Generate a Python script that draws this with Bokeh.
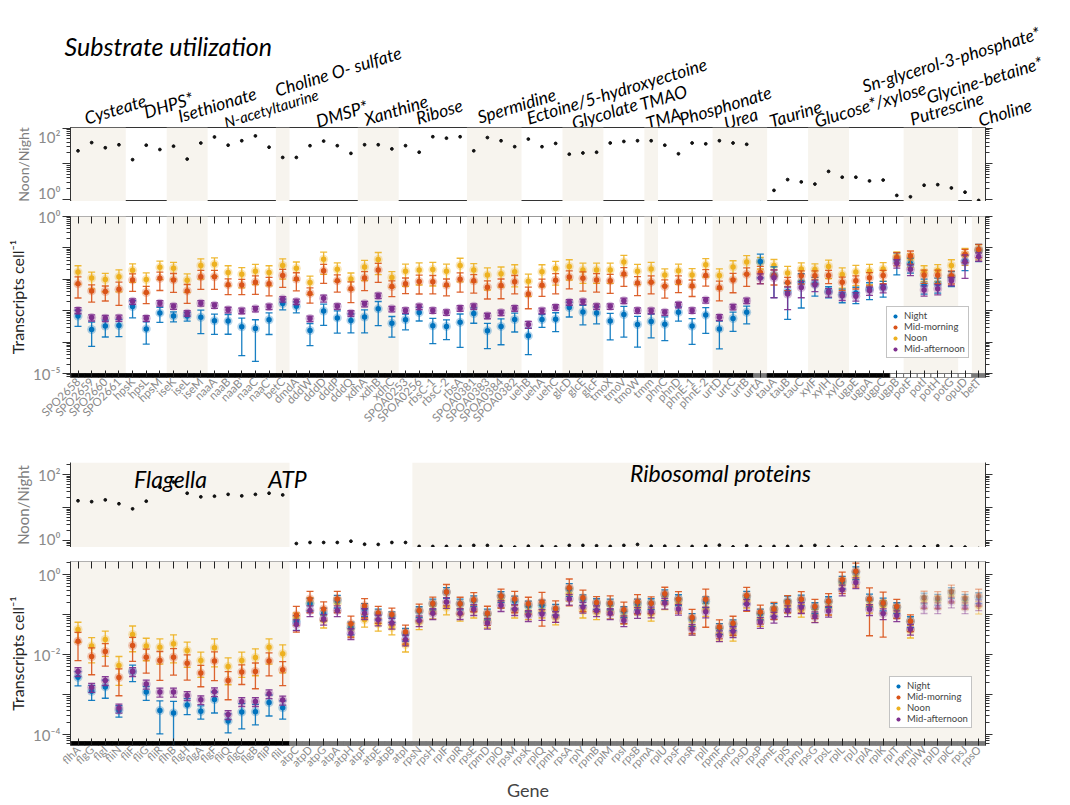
import math
from bokeh.plotting import figure
from bokeh.models import (Range1d, LogAxis, LinearAxis, FixedTicker, CustomJSTickFormatter,
                          Legend, LegendItem)
from bokeh.embed import file_html
from bokeh.resources import INLINE
from bokeh.core.properties import value

# ---------------- data: substrate utilization panel ----------------
genes_top = ["SPO2658","SPO2659","SPO2660","SPO2661","hpsK","hpsL","hpsM","iseK","iseL","iseM",
             "naaA","naaB","naaB'","naaC","naaC'","betC","dmdA","dddW","dddD","dddP","dddQ",
             "xdhA","xdhB","xdhC","SPOA0253","SPOA0256","rbsC-1","rbsC-2","rbsA","SPOA0381",
             "SPOA0383","SPOA0384","SPOA0382","uehB","uehA","uehC","glcD","glcE","glcF","tmoX",
             "tmoV","tmoW","tmm","phnC","phnD","phnE-1","phnE-2","urtD","urtC","urtB","urtA",
             "tauA","tauB","tauC","xylF","xylH","xylG","ugpE","ugpA","ugpC","ugpB","potF","potI",
             "potH","potG","opuD","betT"]
groups_top = ["Cysteate","DHPS*","Isethionate","N-acetyltaurine","Choline O- sulfate","DMSP*",
              "Xanthine","Ribose","Spermidine","Ectoine/5-hydroxyectoine","Glycolate","TMAO","TMA",
              "Phosphonate","Urea","Taurine","Glucose*/xylose","Sn-glycerol-3-phosphate*",
              "Putrescine","Glycine-betaine*","Choline"]
group_sizes_top = [4,3,3,5,1,5,3,5,4,3,3,3,1,4,4,3,3,4,4,1,1]
ratio_top = [23,39,28,34,13,33,25,31,13.5,38, 56,33,44,60,29,15,15,32,43,32,
             19.5,34,34,26,32,21,57,52,57,23, 54,44,30,49,30,37,18.5,20,21,38,
             42,44,44,33,19,38,36,44,38,35, 0.81,1.8,3.6,3.1,2.7,6.1,4.2,4.2,3.3,3.5,
             1.3,1.19,2.5,2.6,2.1,1.6,0.94]
# log10(transcripts per cell)
night_top_log = [-3.17,-3.60,-3.49,-3.47,-2.87,-3.58,-3.07,-3.17,-3.17,-3.21,
                 -3.32,-3.33,-3.51,-3.57,-3.29,-2.77,-2.86,-3.63,-3.01,-3.23,
                 -3.31,-3.20,-2.94,-3.40,-3.29,-3.06,-3.48,-3.50,-3.37,-3.09,
                 -3.64,-3.50,-3.28,-3.80,-3.28,-3.27,-2.90,-3.04,-3.07,-3.33,
                 -3.12,-3.44,-3.34,-3.43,-3.05,-3.49,-3.14,-3.58,-3.25,-3.05,
                 -1.43,-1.86,-2.39,-2.09,-2.14,-2.38,-2.48,-2.44,-2.30,-2.25,
                 -1.38,-1.50,-2.17,-2.14,-1.93,-1.42,-1.08]
morning_top_log = [-2.14,-2.37,-2.39,-2.32,-2.02,-2.42,-1.97,-2.02,-2.37,-1.92,
                   -1.92,-2.17,-2.18,-2.09,-2.14,-1.88,-1.99,-2.45,-1.73,-2.05,
                   -2.30,-1.96,-1.70,-2.23,-2.14,-2.07,-2.08,-2.18,-2.00,-2.05,
                   -2.25,-2.20,-2.08,-2.47,-2.19,-2.03,-1.93,-1.97,-2.02,-2.05,
                   -1.83,-2.12,-2.09,-2.22,-2.08,-2.21,-1.88,-2.27,-2.02,-1.84,
                   -1.78,-1.88,-2.10,-1.89,-1.89,-1.88,-2.09,-2.05,-1.95,-1.88,
                   -1.31,-1.26,-1.87,-1.87,-1.89,-1.21,-1.05]
noon_top_log = [-1.77,-1.96,-2.01,-1.92,-1.71,-2.01,-1.62,-1.65,-2.03,-1.56,
                -1.52,-1.78,-1.84,-1.74,-1.78,-1.56,-1.65,-2.10,-1.36,-1.68,
                -1.99,-1.61,-1.37,-1.94,-1.74,-1.70,-1.69,-1.74,-1.56,-1.70,
                -1.86,-1.82,-1.76,-2.06,-1.76,-1.66,-1.59,-1.70,-1.70,-1.70,
                -1.45,-1.74,-1.67,-1.86,-1.73,-1.86,-1.54,-1.88,-1.61,-1.45,
                -1.45,-1.56,-1.80,-1.67,-1.69,-1.59,-1.85,-1.77,-1.74,-1.67,
                -1.27,-1.35,-1.75,-1.72,-1.56,-1.21,-1.08]
afternoon_top_log = [-2.99,-3.22,-3.24,-3.23,-2.70,-3.24,-2.76,-2.86,-3.08,-2.76,
                     -2.83,-2.97,-3.00,-2.94,-2.87,-2.63,-2.71,-3.25,-2.60,-2.86,
                     -3.08,-2.78,-2.52,-2.94,-2.99,-2.87,-2.99,-3.05,-2.92,-2.86,
                     -3.16,-3.06,-2.92,-3.44,-3.00,-2.89,-2.73,-2.71,-2.86,-2.86,
                     -2.68,-2.99,-3.00,-3.05,-2.81,-2.99,-2.66,-3.21,-2.88,-2.68,
                     -1.96,-1.95,-2.47,-2.26,-2.17,-2.41,-2.52,-2.54,-2.36,-2.28,
                     -1.49,-1.68,-2.34,-2.30,-2.05,-1.45,-1.27]
# standard deviation / mean
night_cv_top = [0.53,0.71,0.55,0.56,0.56,0.67,0.50,0.35,0.31,0.70, 0.63,0.62,0.88,0.91,0.66,0.37,0.38,0.67,0.65,0.67,
                0.60,0.69,0.71,0.64,0.52,0.46,0.73,0.62,0.84,0.51, 0.73,0.74,0.60,0.75,0.44,0.60,0.50,0.61,0.55,0.75,
                0.81,0.81,0.70,0.70,0.48,0.74,0.74,0.77,0.61,0.57, 0.70,0.81,0.87,0.85,0.60,0.39,0.46,0.54,0.55,0.52,
                0.67,0.50,0.50,0.50,0.50,0.50,0.56]
morning_cv_top = [0.65,0.56,0.50,0.69,0.57,0.56,0.59,0.60,0.60,0.60, 0.60,0.52,0.51,0.59,0.59,0.58,0.58,0.51,0.60,0.56,
                  0.64,0.60,0.60,0.52,0.52,0.60,0.59,0.55,0.61,0.59, 0.58,0.62,0.59,0.66,0.56,0.63,0.58,0.61,0.59,0.60,
                  0.60,0.60,0.58,0.58,0.55,0.54,0.54,0.62,0.61,0.59, 0.56,0.50,0.45,0.45,0.45,0.45,0.45,0.45,0.45,0.45,
                  0.45,0.45,0.45,0.45,0.45,0.45,0.45]
noon_cv_top = [0.59,0.55,0.59,0.67,0.59,0.63,0.59,0.55,0.59,0.63, 0.59,0.63,0.63,0.63,0.63,0.63,0.59,0.59,0.67,0.59,
               0.55,0.63,0.67,0.52,0.67,0.67,0.70,0.67,0.70,0.59, 0.67,0.63,0.67,0.67,0.67,0.70,0.63,0.63,0.63,0.63,
               0.63,0.63,0.63,0.55,0.63,0.59,0.59,0.63,0.59,0.59, 0.40,0.55,0.63,0.57,0.52,0.59,0.63,0.63,0.63,0.59,
               0.39,0.45,0.52,0.55,0.52,0.55,0.50]
afternoon_cv_top = [0.22,0.22,0.22,0.22,0.20,0.20,0.20,0.20,0.20,0.20, 0.20,0.20,0.20,0.20,0.20,0.20,0.20,0.20,0.25,0.20,
                    0.20,0.20,0.20,0.20,0.20,0.20,0.20,0.20,0.20,0.20, 0.20,0.20,0.20,0.25,0.20,0.20,0.20,0.20,0.20,0.20,
                    0.20,0.20,0.20,0.20,0.20,0.20,0.20,0.22,0.20,0.20, 0.35,0.77,0.68,0.53,0.40,0.30,0.30,0.30,0.30,0.30,
                    0.30,0.37,0.36,0.36,0.30,0.70,0.30]
strip_top = ["black"]*50 + ["gray"] + ["black"]*9 + ["none"]*6 + ["gray"]

# ---------------- data: flagella / ATP / ribosomal panel ----------------
genes_bot = ["flhA","flgG","flgI","fliN","fliF","fliG","fliR","flhB","flgH","flgA","flgF","fliQ","flgC",
             "flgB","fliP","fliL","atpC","atpD","atpG","atpA","atpH","atpF","atpE","atpB","atpI","rpsN",
             "rpsH","rplF","rplR","rpsE","rpmD","rplO","rpsM","rpsK","rplQ","rpmH","rpsA","rplY","rpmB",
             "rplM","rpsI","rpsB","rpmA","rplU","rpsF","rpsR","rplI","rpmF","rpmG","rpsD","rpsP","rpmE",
             "rplS","rpmJ","rpsG","rpsL","rplL","rplJ","rplA","rplK","rplT","rpmI","rplW","rplD","rplC",
             "rpsJ","rpsO"]
groups_bot = ["Flagella", "ATP", "Ribosomal proteins"]
group_sizes_bot = [16, 9, 42]
ratio_bot = [16,15,17,13,9.1,15.5,41,59,27,21, 22,25,22.5,25,27,24,0.81,0.87,0.87,0.87,
             0.95,0.77,0.76,0.87,0.87,0.66,0.66,0.66,0.66,0.71, 0.71,0.66,0.63,0.67,0.66,0.64,0.71,0.71,0.69,0.66,
             0.71,0.76,0.67,0.67,0.64,0.66,0.67,0.72,0.64,0.69, 0.64,0.66,0.66,0.66,0.71,0.63,0.63,0.63,0.64,0.63,
             0.64,0.64,0.64,0.69,0.64,0.63,0.57]
night_bot_log = [-2.57,-2.92,-2.81,-3.40,-2.425,-2.94,-3.40,-3.46,-3.26,-3.42,
                 -3.125,-3.66,-3.44,-3.43,-3.20,-3.33,-1.175,-0.73,-0.97,-0.65,
                 -1.32,-0.86,-0.98,-1.05,-1.48,-0.92,-0.73,-0.44,-0.73,-0.65,
                 -0.98,-0.54,-0.67,-0.78,-0.77,-0.86,-0.36,-0.625,-0.72,-0.73,
                 -0.92,-0.73,-0.72,-0.50,-0.62,-1.11,-0.675,-1.34,-1.25,-0.55,
                 -0.98,-0.86,-0.67,-0.63,-0.82,-0.67,-0.175,0.06,-0.62,-0.72,
                 -0.82,-1.17,-0.58,-0.61,-0.44,-0.61,-0.57]
morning_bot_log = [-1.67,-2.05,-1.925,-2.575,-1.775,-2.07,-2.15,-2.07,-2.22,-2.46,
                   -2.16,-2.65,-2.44,-2.425,-2.16,-2.38,-1.01,-0.61,-0.86,-0.61,
                   -1.23,-0.78,-0.96,-1.00,-1.44,-0.90,-0.725,-0.44,-0.73,-0.63,
                   -0.97,-0.54,-0.61,-0.73,-0.69,-0.85,-0.33,-0.58,-0.70,-0.71,
                   -0.88,-0.68,-0.72,-0.48,-0.62,-1.075,-0.62,-1.31,-1.22,-0.525,
                   -0.94,-0.86,-0.69,-0.62,-0.80,-0.67,-0.13,0.08,-0.61,-0.71,
                   -0.80,-1.17,-0.58,-0.59,-0.425,-0.59,-0.53]
noon_bot_log = [-1.375,-1.79,-1.625,-2.275,-1.50,-1.79,-1.82,-1.73,-1.90,-2.15,
                -1.83,-2.30,-2.15,-2.075,-1.82,-1.98,-1.09,-0.71,-1.15,-0.72,
                -1.36,-1.13,-1.23,-1.32,-1.75,-1.19,-0.92,-0.82,-0.98,-0.90,
                -1.15,-0.65,-0.90,-0.94,-0.90,-1.07,-0.48,-0.90,-0.94,-0.92,
                -1.05,-0.82,-0.98,-0.69,-0.73,-1.32,-0.86,-1.48,-1.48,-0.65,
                -1.11,-0.94,-0.78,-0.88,-1.01,-0.82,-0.23,-0.07,-0.78,-0.78,
                -0.90,-1.40,-0.67,-0.67,-0.53,-0.69,-0.80]
afternoon_bot_log = [-2.425,-2.82,-2.65,-3.34,-2.425,-2.74,-2.94,-2.94,-3.025,-3.13,
                     -2.93,-3.50,-3.175,-3.175,-2.98,-3.14,-1.25,-0.90,-1.11,-0.90,
                     -1.47,-0.97,-1.13,-1.21,-1.63,-1.15,-0.97,-0.69,-0.97,-0.87,
                     -1.21,-0.77,-0.87,-1.02,-0.99,-1.04,-0.61,-0.81,-0.90,-0.97,
                     -1.15,-0.94,-0.93,-0.71,-0.86,-1.36,-0.93,-1.525,-1.42,-0.74,
                     -1.19,-1.06,-0.90,-0.82,-1.05,-0.91,-0.38,-0.20,-0.87,-0.975,
                     -1.025,-1.36,-0.82,-0.825,-0.68,-0.825,-0.75]
night_cv_bot = [0.39,0.41,0.48,0.32,0.44,0.38,0.74,0.95,0.43,0.36, 0.54,0.50,0.62,0.53,0.54,0.48,0.40,0.35,0.35,0.35,
                0.35,0.35,0.30,0.30,0.35,0.30,0.30,0.30,0.30,0.30, 0.30,0.30,0.35,0.30,0.35,0.30,0.35,0.30,0.30,0.30,
                0.30,0.30,0.30,0.30,0.30,0.35,0.30,0.30,0.30,0.35, 0.30,0.35,0.35,0.30,0.30,0.30,0.35,0.35,0.35,0.35,
                0.30,0.30,0.30,0.30,0.30,0.30,0.30]
morning_cv_bot = [0.67,0.65,0.57,0.65,0.60,0.60,0.68,0.64,0.62,0.55, 0.68,0.67,0.51,0.63,0.58,0.60,0.63,0.55,0.50,0.55,
                  0.55,0.50,0.45,0.45,0.50,0.45,0.45,0.55,0.45,0.50, 0.50,0.50,0.55,0.45,0.75,0.55,0.65,0.55,0.40,0.50,
                  0.55,0.50,0.45,0.45,0.55,0.60,0.80,0.50,0.50,0.60, 0.50,0.45,0.45,0.55,0.50,0.55,0.55,0.60,0.88,0.86,
                  0.50,0.45,0.45,0.45,0.45,0.45,0.45]
noon_cv_bot = [0.52,0.62,0.62,0.68,0.63,0.57,0.62,0.67,0.62,0.62, 0.67,0.65,0.62,0.65,0.62,0.67,0.35,0.35,0.35,0.35,
               0.35,0.35,0.35,0.35,0.35,0.35,0.35,0.35,0.35,0.35, 0.35,0.35,0.35,0.35,0.35,0.35,0.35,0.35,0.35,0.35,
               0.35,0.35,0.35,0.35,0.35,0.35,0.35,0.35,0.35,0.35, 0.35,0.35,0.35,0.35,0.35,0.35,0.35,0.35,0.35,0.35,
               0.35,0.35,0.35,0.35,0.35,0.35,0.35]
afternoon_cv_bot = [0.25,0.25,0.25,0.25,0.25,0.25,0.25,0.25,0.25,0.25, 0.25,0.25,0.25,0.25,0.25,0.25,0.30,0.30,0.30,0.30,
                    0.30,0.30,0.30,0.30,0.30,0.30,0.30,0.30,0.30,0.30, 0.30,0.30,0.30,0.30,0.30,0.30,0.30,0.30,0.30,0.30,
                    0.30,0.30,0.30,0.30,0.30,0.30,0.30,0.30,0.30,0.30, 0.30,0.30,0.30,0.30,0.30,0.30,0.30,0.30,0.30,0.30,
                    0.30,0.30,0.30,0.30,0.30,0.30,0.30]
strip_bot = ["black"]*16 + ["gray"]*51
faded_bot = [False]*62 + [True]*5

series_names = ["Night", "Mid-morning", "Noon", "Mid-afternoon"]
series_colors = ["#0072BD", "#D95319", "#EDB120", "#7E2F8E"]

# ---------------- styling / layout constants (page pixels) ----------------
FONT = "Lato"
SHADE = "#f7f4ee"
TICK_GRAY = "#8a8a8a"
W = 1062
LEFT = 70
FRAME_W = 915
RIGHT = W - LEFT - FRAME_W
X0, X1 = -0.55, 66.5
PPX = FRAME_W / (X1 - X0)


def px_to_x(page_x):
    return X0 + (page_x - LEFT) / PPX


def make_fig(height, log_lo, log_hi, top, bottom, with_x=False):
    p = figure(width=W, height=height, x_range=Range1d(X0, X1),
               y_range=Range1d(10 ** log_lo, 10 ** log_hi), y_axis_type="log",
               x_axis_location="below" if with_x else None,
               output_backend="svg", toolbar_location=None,
               min_border_left=LEFT, min_border_right=RIGHT,
               min_border_top=top, min_border_bottom=bottom)
    p.xgrid.visible = False
    p.ygrid.visible = False
    p.background_fill_color = "white"
    p.border_fill_color = "white"
    return p


def decade_ticker(e_lo, e_hi):
    majors = [10.0 ** e for e in range(e_lo, e_hi + 1)]
    minors = [k * 10.0 ** e for e in range(e_lo - 1, e_hi + 1) for k in range(2, 10)]
    return FixedTicker(ticks=majors, minor_ticks=minors)


def pow_formatter(exps, texts):
    return CustomJSTickFormatter(args=dict(exps=exps, texts=texts), code="""
        const e = Math.round(Math.log10(tick));
        const i = exps.indexOf(e);
        return i >= 0 ? texts[i] : "";
    """)


def style_y(p, ticker, exps, texts, label, label_color, label_size="16px"):
    ax = p.yaxis[0]
    ax.ticker = ticker
    ax.formatter = pow_formatter(exps, texts)
    ax.axis_label = label
    ax.axis_label_text_font = FONT
    ax.axis_label_text_font_size = label_size
    ax.axis_label_text_font_style = "normal"
    ax.axis_label_text_color = label_color
    ax.axis_label_standoff = 3
    ax.major_label_text_font = FONT
    ax.major_label_text_font_size = "15px"
    ax.major_label_text_color = TICK_GRAY
    ax.major_label_standoff = 2
    ax.major_tick_out = 8
    ax.major_tick_in = 0
    ax.minor_tick_out = 4
    ax.minor_tick_in = 0
    ax.axis_line_color = "#333333"
    ax.major_tick_line_color = "#333333"
    ax.minor_tick_line_color = "#333333"
    rax = LogAxis(ticker=ticker, formatter=CustomJSTickFormatter(code="return '';"),
                  major_tick_out=7, major_tick_in=0, minor_tick_out=4, minor_tick_in=0,
                  axis_line_color="#333333", major_tick_line_color="#333333",
                  minor_tick_line_color="#333333")
    p.add_layout(rax, "right")


def shade_groups(p, sizes, y_lo, y_hi):
    start = 0
    for gi, n in enumerate(sizes):
        if gi % 2 == 0:
            p.quad(left=[start - 0.5], right=[start + n - 0.5], bottom=[y_lo], top=[y_hi],
                   fill_color=SHADE, line_color=None)
        start += n


def gene_axes(p, genes, font_size="11.5px"):
    idx = list(range(len(genes)))
    bx = p.xaxis[0]
    bx.ticker = FixedTicker(ticks=idx)
    bx.major_label_overrides = {i: g for i, g in enumerate(genes)}
    bx.major_label_orientation = math.pi / 4
    bx.major_label_text_font = FONT
    bx.major_label_text_font_size = font_size
    bx.major_label_text_color = TICK_GRAY
    bx.major_label_standoff = 2
    bx.major_tick_in = 7
    bx.major_tick_out = 0
    bx.minor_tick_line_color = None
    bx.axis_line_color = None
    bx.major_tick_line_color = "#222222"
    tx = LinearAxis(ticker=FixedTicker(ticks=idx),
                    formatter=CustomJSTickFormatter(code="return '';"),
                    major_tick_in=7, major_tick_out=0, minor_tick_line_color=None,
                    axis_line_color=None, major_tick_line_color="#222222")
    p.add_layout(tx, "above")
    return bx


def strip(p, classes, y_lo, y_hi):
    fills = {"black": "#000000", "gray": "#7a7a7a", "none": "#ffffff"}
    for i, c in enumerate(classes):
        p.quad(left=[i - 0.5], right=[i + 0.5], bottom=[y_lo], top=[y_hi],
               fill_color=fills[c], line_color=fills[c] if c != "none" else "#555555",
               line_width=0.8)


def draw_series(p, xs, logs, cvs, color, y_floor, faded=None):
    for i, (lv, cv) in enumerate(zip(logs, cvs)):
        v = 10 ** lv
        sd = cv * v
        lo = max(v - sd, y_floor)
        hi = v + sd
        a = 0.45 if (faded is not None and faded[i]) else 1.0
        p.segment(x0=[xs[i]], y0=[lo], x1=[xs[i]], y1=[hi], line_color=color,
                  line_width=1.3, line_alpha=0.9 * a)
        p.scatter(x=[xs[i]], y=[hi], marker="dash", size=7, line_color=color,
                  line_width=1.3, line_alpha=0.9 * a)
        if v - sd > y_floor:
            p.scatter(x=[xs[i]], y=[lo], marker="dash", size=7, line_color=color,
                      line_width=1.3, line_alpha=0.9 * a)
    vals = [10 ** lv for lv in logs]
    alphas = [0.45 if (faded is not None and faded[i]) else 1.0 for i in range(len(vals))]
    halo = p.scatter(x=xs, y=vals, size=9, fill_color=color, fill_alpha=[0.3 * a for a in alphas],
                     line_color=None)
    dot = p.scatter(x=xs, y=vals, size=5.5, fill_color=color, fill_alpha=alphas,
                    line_color=None)
    return [halo, dot]


def add_legend(p, rend_lists, loc):
    items = [LegendItem(label=n, renderers=r) for n, r in zip(series_names, rend_lists)]
    lg = Legend(items=items, location=loc, label_text_font=FONT, label_text_font_size="9.5px",
                glyph_width=10, glyph_height=10, label_height=10, spacing=0, padding=3,
                margin=0, label_standoff=4, border_line_color="#888888",
                background_fill_color="white", background_fill_alpha=1.0)
    p.add_layout(lg)


# ================= Header: panel titles for substrates =================
HDR_H = 127
ph = figure(width=W, height=HDR_H, x_range=Range1d(px_to_x(0), px_to_x(W)),
            y_range=Range1d(HDR_H, 0), x_axis_location=None, y_axis_location=None,
            output_backend="svg", toolbar_location=None,
            min_border_left=0, min_border_right=0, min_border_top=0, min_border_bottom=0)
ph.xgrid.visible = False
ph.ygrid.visible = False
ph.outline_line_color = None
ph.text(x=[px_to_x(64)], y=[45], text=["Substrate utilization"], text_font=value(FONT),
        text_font_size="25px", text_font_style="italic", text_baseline="middle",
        text_color="black")
# label anchors: offset (in genes) from each group's first gene, baseline (page px), font size
label_nudge = [0.5, 0.87, 0.36, 0.73, -0.53, 1.47, 0.0, 0.8, 0.3, -0.1, 0.2, 2.2, -0.35, 1.1, 0.36,
               -0.3, 0.0, 0.5, 0.0, -2.8, 0.0]
label_base = [118, 112, 116, 122, 90, 121, 119, 118, 117, 118, 123, 104, 123, 119, 123,
              121, 121, 86, 119, 97, 120]
label_size = ["17.5px"] * 3 + ["15px"] + ["17.5px"] * 17
label_x, start = [], 0
for gi, n in enumerate(group_sizes_top):
    label_x.append(start + label_nudge[gi])
    start += n
ph.text(x=label_x, y=label_base, text=groups_top, text_font=value(FONT),
        text_font_size=label_size, text_font_style="italic", angle=17 * math.pi / 180,
        text_baseline="alphabetic", text_color="black")

# ================= Panel A: ratio (substrates) =================
A_TOP_PAGE, A_BOT_PAGE = 127, 201
A_PPD = 35.75
A_LOG_HI = 2 + 0.5 / A_PPD
A_LOG_LO = A_LOG_HI - (A_BOT_PAGE - A_TOP_PAGE) / A_PPD
pa = make_fig(A_BOT_PAGE - A_TOP_PAGE, A_LOG_LO, A_LOG_HI, 0, 0)
shade_groups(pa, group_sizes_top, 10 ** A_LOG_LO, 10 ** A_LOG_HI)
pa.scatter(x=list(range(len(genes_top))), y=ratio_top, size=2.8, color="#111111")
style_y(pa, decade_ticker(0, 2), [0, 2], ["10\u2070", "10\u00b2"], "Noon/Night", "#7f7f7f",
        label_size="14px")
pa.outline_line_color = "#333333"

# ================= Panel B: transcripts (substrates) =================
B_TOP_PAGE, B_BOT_PAGE = 216, 377
B_PPD = 31.4
B_LOG_HI = 0.0
B_LOG_LO = B_LOG_HI - (B_BOT_PAGE - B_TOP_PAGE) / B_PPD
pb = make_fig(455 - 201, B_LOG_LO, B_LOG_HI, B_TOP_PAGE - 201, 455 - B_BOT_PAGE, with_x=True)
shade_groups(pb, group_sizes_top, 10 ** B_LOG_LO, 10 ** B_LOG_HI)
strip(pb, strip_top, 10 ** B_LOG_LO, 1e-5)
xs = list(range(len(genes_top)))
floor_b = 10 ** B_LOG_LO
r_noon = draw_series(pb, xs, noon_top_log, noon_cv_top, series_colors[2], floor_b)
r_night = draw_series(pb, xs, night_top_log, night_cv_top, series_colors[0], floor_b)
r_morn = draw_series(pb, xs, morning_top_log, morning_cv_top, series_colors[1], floor_b)
r_aft = draw_series(pb, xs, afternoon_top_log, afternoon_cv_top, series_colors[3], floor_b)
style_y(pb, decade_ticker(-5, 0), [0, -5], ["10\u2070", "10\u207b\u2075"],
        "Transcripts cell\u207b\u00b9", "#222222")
gene_axes(pb, genes_top)
pb.outline_line_color = "#999999"
add_legend(pb, [r_night, r_morn, r_noon, r_aft], (816, 19))

# ================= Panel C: ratio (flagella etc.) with section titles =================
C_FRAME_TOP, C_BOT_PAGE = 462, 547
C_PPD = 33.0
C_ONE_PAGE = 540
C_LOG_HI = (C_ONE_PAGE - C_FRAME_TOP) / C_PPD
C_LOG_LO = -(C_BOT_PAGE - C_ONE_PAGE) / C_PPD
pc = make_fig(C_BOT_PAGE - 455, C_LOG_LO, C_LOG_HI, C_FRAME_TOP - 455, 0)
shade_groups(pc, group_sizes_bot, 10 ** C_LOG_LO, 10 ** C_LOG_HI)
pc.scatter(x=list(range(len(genes_bot))), y=ratio_bot, size=2.8, color="#111111")
style_y(pc, decade_ticker(0, 2), [0, 2], ["10\u2070", "10\u00b2"], "Noon/Night", "#7f7f7f",
        label_size="15px")
pc.outline_line_color = None
pc.add_layout(LinearAxis(ticker=FixedTicker(ticks=[]), formatter=CustomJSTickFormatter(code="return '';"),
                         axis_line_color="#333333", major_tick_line_color=None,
                         minor_tick_line_color=None), "below")


def yc(page_y):
    return 10 ** (C_LOG_HI - (page_y - C_FRAME_TOP) / C_PPD)


title_pos_bot = [(170, 478), (287, 478), (720, 472)]
pc.text(x=[px_to_x(t[0]) for t in title_pos_bot], y=[yc(t[1]) for t in title_pos_bot],
        text=groups_bot, text_font=value(FONT), text_font_size="23px",
        text_font_style="italic", text_align="center", text_baseline="middle",
        text_color="black")

# ================= Panel D: transcripts (flagella etc.) =================
D_TOP_PAGE, D_BOT_PAGE = 561, 745
D_PPD = 40.0
D_ONE_PAGE = 574
D_LOG_HI = (D_ONE_PAGE - D_TOP_PAGE) / D_PPD
D_LOG_LO = -(D_BOT_PAGE - D_ONE_PAGE) / D_PPD
PAGE_END = 804
pd_ = make_fig(PAGE_END - 547, D_LOG_LO, D_LOG_HI, D_TOP_PAGE - 547, PAGE_END - D_BOT_PAGE, with_x=True)
shade_groups(pd_, group_sizes_bot, 10 ** D_LOG_LO, 10 ** D_LOG_HI)
strip(pd_, strip_bot, 10 ** D_LOG_LO, 10 ** (D_LOG_LO + 4 / D_PPD))
xs2 = list(range(len(genes_bot)))
floor_d = 10 ** D_LOG_LO
q_noon = draw_series(pd_, xs2, noon_bot_log, noon_cv_bot, series_colors[2], floor_d, faded_bot)
q_night = draw_series(pd_, xs2, night_bot_log, night_cv_bot, series_colors[0], floor_d, faded_bot)
q_morn = draw_series(pd_, xs2, morning_bot_log, morning_cv_bot, series_colors[1], floor_d, faded_bot)
q_aft = draw_series(pd_, xs2, afternoon_bot_log, afternoon_cv_bot, series_colors[3], floor_d, faded_bot)
style_y(pd_, decade_ticker(-4, 0), [0, -2, -4], ["10\u2070", "10\u207b\u00b2", "10\u207b\u2074"],
        "Transcripts cell\u207b\u00b9", "#222222")
bottom_axis = gene_axes(pd_, genes_bot, font_size="11px")
bottom_axis.axis_label = "Gene"
bottom_axis.axis_label_text_font = FONT
bottom_axis.axis_label_text_font_size = "18px"
bottom_axis.axis_label_text_font_style = "normal"
bottom_axis.axis_label_standoff = 0
pd_.outline_line_color = "#999999"
add_legend(pd_, [q_night, q_morn, q_noon, q_aft], (819, 17))

roots = [ph, pa, pb, pc, pd_]
open("out.html", "w").write(file_html(roots, INLINE))
